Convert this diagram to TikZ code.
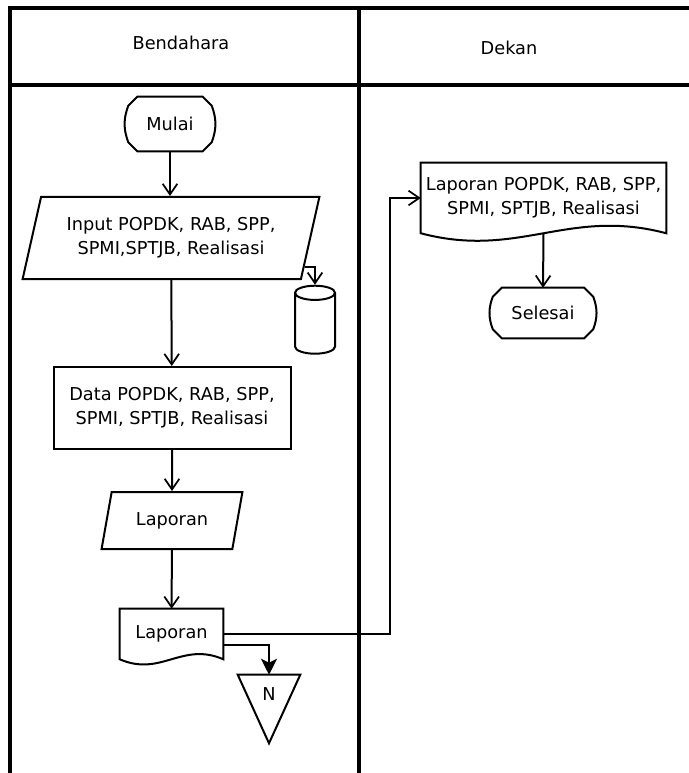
\documentclass[tikz,border=0pt]{standalone}
\usepackage{fontspec}
\setmainfont{DejaVu Sans}
\usepackage{tikz}
\usetikzlibrary{
  arrows.meta,
  calc,
  shapes.geometric
}
\tikzset{
  % Garis bingkai kolom
  lanefrm/.style   = {line width=2.4pt, draw=black},
  % Garis alir
  flowline/.style  = {line width=1.5pt, draw=black},
  arrowline/.style = {flowline, -{Straight Barb[length=8pt, width=11pt, line width=1.3pt]}},
  arrowfill/.style = {flowline, -{Stealth[length=12pt, width=12pt, inset=3pt]}},
  % Teks
  txt/.style       = {font=\fontsize{13.3}{18}\selectfont, align=center, inner sep=0pt},
  % Bentuk
  termbox/.style   = {txt, rectangle},
  iobox/.style     = {txt, trapezium, trapezium left angle=70, trapezium right angle=110,
                      trapezium stretches=true, flowline},
  procbox/.style   = {txt, rectangle, flowline},
  docbox/.style    = {txt, rectangle},
  dbshape/.style   = {cylinder, shape border rotate=90, aspect=1.6, flowline},
  offpage/.style   = {txt, rectangle},
}

\begin{document}
\begin{tikzpicture}[x=0.75pt, y=-0.75pt]
  \useasboundingbox (0,0) rectangle (688,773);
  % Bingkai dan kolom
  \draw[lanefrm] (10,773) -- (10,8) -- (690,8);
  \draw[lanefrm] (10,85) -- (690,85);
  \draw[lanefrm] (359,8) -- (359,773);
  \node[txt] (hdA) at (181,43) {Bendahara};
  \node[txt] (hdB) at (509,48) {Dekan};

  % Bendahara
  \node[termbox, minimum width=62.25pt, minimum height=40.5pt] (mulai) at (170,124) {Mulai};
  \node[iobox, minimum width=222.75pt, minimum height=61.5pt] (input) at (171,238)
    {Input POPDK, RAB, SPP,\\SPMI,SPTJB, Realisasi};
  \node[dbshape, minimum width=30pt, minimum height=51pt] (db) at (315,326) {};
  \node[procbox, minimum width=177.75pt, minimum height=61.5pt] (data) at (172,408)
    {Data POPDK, RAB, SPP,\\SPMI, SPTJB, Realisasi};
  \node[iobox, minimum width=105.75pt, minimum height=42.75pt] (lap1) at (172,520.5) {Laporan};
  \node[docbox, minimum width=77.25pt, minimum height=37.5pt] (lap2) at (171.5,634) {Laporan};
  \node[offpage, minimum width=46.5pt, minimum height=28.5pt] (N) at (269,694) {N};

  % Dekan
  \node[docbox, minimum width=183.75pt, minimum height=52.5pt] (lap3) at (543.5,198)
    {Laporan POPDK, RAB, SPP,\\SPMI, SPTJB, Realisasi};
  \node[termbox, minimum width=75pt, minimum height=37.5pt] (selesai) at (543,313) {Selesai};

  % Bentuk terminator
  \foreach \n in {mulai, selesai} {
    \draw[flowline] ($(\n.north west)+(9,0)$) -- ($(\n.north east)+(-9,0)$)
      -- ($(\n.north east)+(0,9)$) to[bend left=20] ($(\n.south east)+(0,-9)$)
      -- ($(\n.south east)+(-9,0)$) -- ($(\n.south west)+(9,0)$)
      -- ($(\n.south west)+(0,-9)$) to[bend left=20] ($(\n.north west)+(0,9)$) -- cycle;
  }
  % Bentuk dokumen
  \foreach \n/\a in {lap2/18, lap3/26} {
    \draw[flowline] (\n.south west) -- (\n.north west) -- (\n.north east) -- (\n.south east)
      .. controls ($(\n.south east)!0.4!(\n.south west)+(0,-\a)$)
      and ($(\n.south west)!0.4!(\n.south east)+(0,\a)$) .. (\n.south west) -- cycle;
  }
  % Off-page connector
  \draw[flowline] (N.north west) -- (N.north east) -- ($(N.south)+(0,30)$) -- cycle;

  % Alur
  \draw[arrowline] (mulai) -- (mulai |- input.north);
  \draw[arrowline] ($(input.bottom right corner)!0.15!(input.top right corner)$) -| (db.north);
  \draw[arrowline] (input) -- (data);
  \draw[arrowline] (data) -- (lap1);
  \draw[arrowline] (lap1) -- (lap2);
  \draw[arrowline] (lap2.east) -| ($(lap3.west)+(-31,0)$) -- (lap3.west);
  \draw[arrowfill] ($(lap2.east)+(0,11)$) -| (N.north);
  \draw[arrowline] (lap3.south) -- (selesai.north);
\end{tikzpicture}
\end{document}
